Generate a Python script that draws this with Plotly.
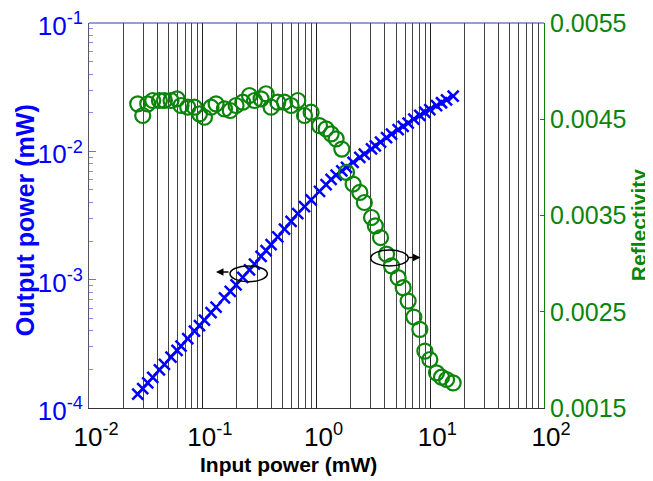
import plotly.graph_objects as go

# ---- data ----
input_power_mW = [0.02681, 0.02967, 0.03283, 0.03633, 0.04160, 0.04603, 0.05263, 0.05943,
                  0.06443, 0.07381, 0.08453, 0.09355, 0.1035, 0.1183, 0.1309, 0.1552,
                  0.1745, 0.1963, 0.2248, 0.2575, 0.2849, 0.3256, 0.3603, 0.3988,
                  0.4566, 0.5231, 0.5979, 0.6848, 0.7844, 0.8966, 1.063, 1.214,
                  1.344, 1.487, 1.669, 1.836, 2.098, 2.403, 2.633, 3.046,
                  3.290, 3.655, 4.128, 4.566, 5.221, 5.776, 6.392, 7.174,
                  8.100, 8.966, 9.920, 11.36, 12.57, 13.91, 15.90]

output_power_mW = [1.283e-4, 1.417e-4, 1.567e-4, 1.730e-4, 1.978e-4, 2.185e-4, 2.492e-4, 2.809e-4,
                   3.041e-4, 3.476e-4, 3.972e-4, 4.387e-4, 4.846e-4, 5.528e-4, 6.109e-4, 7.222e-4,
                   8.107e-4, 9.101e-4, 1.040e-3, 1.193e-3, 1.324e-3, 1.520e-3, 1.687e-3, 1.872e-3,
                   2.153e-3, 2.477e-3, 2.841e-3, 3.267e-3, 3.715e-3, 4.191e-3, 4.885e-3, 5.508e-3,
                   6.035e-3, 6.529e-3, 7.046e-3, 7.502e-3, 8.194e-3, 8.961e-3, 9.517e-3, 1.047e-2,
                   1.102e-2, 1.181e-2, 1.280e-2, 1.362e-2, 1.474e-2, 1.565e-2, 1.661e-2, 1.779e-2,
                   1.910e-2, 2.012e-2, 2.118e-2, 2.271e-2, 2.391e-2, 2.518e-2, 2.695e-2]

reflectivity = [0.004660, 0.004539, 0.004660, 0.004695, 0.004695, 0.004695, 0.004695, 0.004712,
                0.004643, 0.004625, 0.004625, 0.004556, 0.004521, 0.004625, 0.004660, 0.004608,
                0.004591, 0.004643, 0.004677, 0.004747, 0.004695, 0.004712, 0.004765, 0.004625,
                0.004677, 0.004677, 0.004643, 0.004695, 0.004539, 0.004573, 0.004434, 0.004400,
                0.004348, 0.004296, 0.004190, 0.003948, 0.003827, 0.003740, 0.003635, 0.003479,
                0.003393, 0.003271, 0.003098, 0.002976, 0.002854, 0.002750, 0.002611, 0.002445,
                0.002317, 0.002091, 0.002004, 0.001865, 0.001820, 0.001796, 0.001761]

x_ticks = [0.01, 0.1, 1, 10, 100]
x_tick_text = ["10<sup>-2</sup>", "10<sup>-1</sup>", "10<sup>0</sup>", "10<sup>1</sup>", "10<sup>2</sup>"]
y_ticks = [1e-4, 1e-3, 1e-2, 1e-1]
y_tick_text = ["10<sup>-4</sup>", "10<sup>-3</sup>", "10<sup>-2</sup>", "10<sup>-1</sup>"]
refl_ticks = [0.0015, 0.0025, 0.0035, 0.0045, 0.0055]
refl_tick_text = ["0.0015", "0.0025", "0.0035", "0.0045", "0.0055"]

BLUE = "#0000ff"
GREEN = "#0a850a"
FONT = "Liberation Sans, Arial, sans-serif"

fig = go.Figure()

fig.add_trace(go.Scatter(
    x=input_power_mW, y=output_power_mW, mode="markers",
    marker=dict(symbol="x-thin", size=11, line=dict(color=BLUE, width=2.5)),
    yaxis="y", showlegend=False))

fig.add_trace(go.Scatter(
    x=input_power_mW, y=reflectivity, mode="markers",
    marker=dict(symbol="circle-open", size=15, color=GREEN, line=dict(color=GREEN, width=2.2)),
    yaxis="y2", showlegend=False))

# the page body adds an 8 px offset at top/left, so margins are reduced accordingly
fig.update_layout(
    width=645, height=473,
    margin=dict(l=81, r=109, t=15, b=73),
    paper_bgcolor="white", plot_bgcolor="white",
    font=dict(family=FONT),
    xaxis=dict(
        type="log", range=[-2, 2], tickvals=x_ticks, ticktext=x_tick_text,
        tickfont=dict(size=26, color="black"), automargin=False,
        ticklabelstandoff=6, ticklabelshift=7, ticklabeloverflow="allow",
        showgrid=True, gridcolor="#222222", gridwidth=1,
        minor=dict(dtick="D1", showgrid=True, gridcolor="#444444", gridwidth=1, ticks=""),
        showline=True, linecolor="#333333", linewidth=1,
        ticks="", zeroline=False,
    ),
    yaxis=dict(
        type="log", range=[-4, -1], tickvals=y_ticks, ticktext=y_tick_text,
        tickfont=dict(size=26, color=BLUE), automargin=False,
        ticklabelstandoff=0, ticklabelshift=3, ticklabeloverflow="allow",
        ticks="inside", ticklen=7, tickcolor="#6a6aff", tickwidth=1,
        minor=dict(dtick="D1", ticks="inside", ticklen=4, tickcolor="#8a8aff", showgrid=False),
        showgrid=False, showline=True, linecolor="#555566", linewidth=1,
        zeroline=False,
    ),
    yaxis2=dict(
        overlaying="y", side="right", range=[0.0015, 0.0055],
        tickvals=refl_ticks, ticktext=refl_tick_text, automargin=False,
        tickfont=dict(size=25, color=GREEN), ticklabeloverflow="allow",
        ticks="inside", ticklen=4, tickcolor=GREEN,
        showgrid=False, showline=True, linecolor=GREEN, linewidth=1, zeroline=False,
    ),
    shapes=[
        dict(type="line", xref="paper", yref="paper", x0=0, x1=1, y0=1, y1=1,
             line=dict(color="#3838a8", width=1)),
        dict(type="circle", xref="paper", yref="paper", x0=0.3099, x1=0.3919, y0=0.328, y1=0.3688,
             line=dict(color="black", width=1.5)),
        dict(type="circle", xref="paper", yref="paper", x0=0.6191, x1=0.7018, y0=0.3688, y1=0.4104,
             line=dict(color="black", width=1.5)),
    ],
    annotations=[
        dict(xref="paper", yref="paper", x=0.2791, y=0.3532, ax=14, ay=0, text="",
             showarrow=True, arrowhead=2, arrowsize=1, arrowwidth=1.5, arrowcolor="black"),
        dict(xref="paper", yref="paper", x=0.7286, y=0.3909, ax=-13, ay=0, text="",
             showarrow=True, arrowhead=2, arrowsize=1, arrowwidth=1.5, arrowcolor="black"),
        dict(xref="paper", yref="paper", x=0.4374, y=-0.148, xanchor="center", yanchor="middle",
             text="<b>Input power (mW)</b>", showarrow=False,
             font=dict(size=21, color="black", family=FONT)),
        dict(xref="paper", yref="paper", x=1.2066, y=0.475, xanchor="center", yanchor="middle",
             text="<b>Reflectivity</b>", textangle=-90, showarrow=False,
             font=dict(size=21, color=GREEN, family=FONT)),
        dict(xref="paper", yref="paper", x=-0.1758, y=0.488, xanchor="left", yanchor="middle",
             text="<b>Output power (mW)</b>", textangle=-90, showarrow=False,
             font=dict(size=25, color=BLUE, family=FONT)),
    ],
)

fig.write_html("out.html")
